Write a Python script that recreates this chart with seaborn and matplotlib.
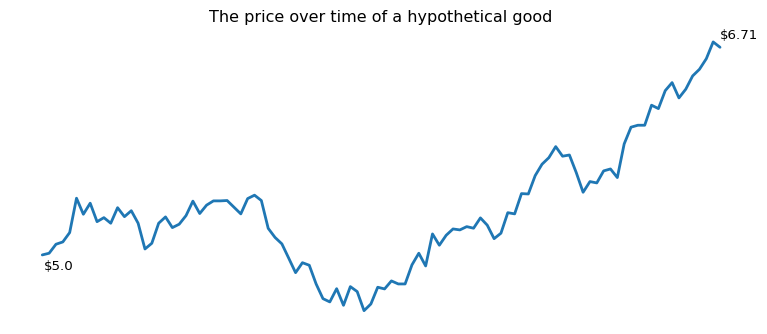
import matplotlib
matplotlib.use("Agg")
import matplotlib.pyplot as plt
import seaborn as sns
import numpy as np
import pandas as pd

title = "The price over time of a hypothetical good"
price = [
    5.000, 5.014, 5.088, 5.107, 5.184, 5.467, 5.335, 5.426, 5.274, 5.307,
    5.261, 5.389, 5.315, 5.364, 5.261, 5.049, 5.096, 5.261, 5.313, 5.225,
    5.253, 5.324, 5.443, 5.341, 5.410, 5.445, 5.445, 5.448, 5.393, 5.338,
    5.464, 5.492, 5.448, 5.219, 5.144, 5.091, 4.973, 4.854, 4.936, 4.915,
    4.761, 4.640, 4.613, 4.722, 4.585, 4.739, 4.698, 4.541, 4.596, 4.734,
    4.720, 4.786, 4.761, 4.761, 4.918, 5.014, 4.909, 5.173, 5.080, 5.162,
    5.214, 5.206, 5.233, 5.220, 5.305, 5.245, 5.134, 5.179, 5.348, 5.338,
    5.505, 5.502, 5.653, 5.747, 5.801, 5.892, 5.813, 5.823, 5.678, 5.516,
    5.604, 5.593, 5.692, 5.708, 5.637, 5.914, 6.052, 6.068, 6.068, 6.233,
    6.205, 6.353, 6.419, 6.293, 6.365, 6.474, 6.529, 6.616, 6.754, 6.710,
]
time = list(range(len(price)))
start_label = "$5.0"
end_label = "$6.71"

sns.set_style("white")
plt.rcParams["font.family"] = ["DejaVu Sans"]
plt.rcParams["text.color"] = "black"

W, H = 767, 334
fig = plt.figure(figsize=(W / 100, H / 100), dpi=100)
ax = fig.add_axes([8.4 / W, (H - 324.1) / H, 745.5 / W, 295.6 / H])

df = pd.DataFrame({"time": time, "price": price})
sns.lineplot(data=df, x="time", y="price", ax=ax, color="#1f77b4", linewidth=2.0)

ax.set(xticks=[], yticks=[], xlabel="", ylabel="")
sns.despine(ax=ax, left=True, bottom=True)

ax.set_title(title, fontsize=11.5, pad=4.5, color="black")

ax.annotate(start_label, xy=(time[0], price[0]), xytext=(1.5, -5.5),
            textcoords="offset pixels", ha="left", va="top", fontsize=9.6,
            color="black")
ax.annotate(end_label, xy=(time[-1], price[-1]), xytext=(0, 8),
            textcoords="offset pixels", ha="left", va="baseline", fontsize=9.6,
            color="black")

fig.savefig("out.png", dpi=100)
